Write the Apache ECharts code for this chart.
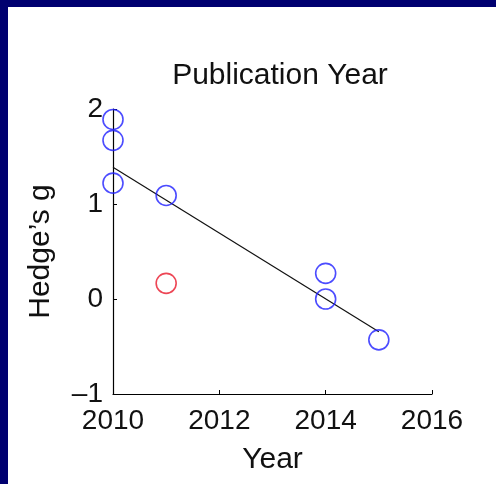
<!DOCTYPE html>
<html>
<head>
<meta charset="utf-8">
<script src="https://cdn.jsdelivr.net/npm/echarts@6/dist/echarts.min.js"></script>
<style>
html,body{margin:0;padding:0;background:#fff;}
#c{width:496px;height:484px;}
</style>
</head>
<body>
<div id="c"></div>
<script>
const titleText = 'Publication Year';
const xName = 'Year';
const yName = 'Hedge\u2019s g';
const blueYears = [2010, 2010, 2010, 2011, 2014, 2014, 2015];
const blueG = [1.89, 1.67, 1.22, 1.09, 0.27, 0.0, -0.43];
const redYears = [2011];
const redG = [0.165];
const fitYears = [2010, 2015];
const fitG = [1.386, -0.344];
const xTicks = [2010, 2012, 2014, 2016];
const yTicks = [-1, 0, 1, 2];

const font = 'Liberation Sans, Arial, Helvetica, sans-serif';
const chart = echarts.init(document.getElementById('c'), null, {renderer: 'canvas'});
const pairs = (xs, ys) => xs.map((x, i) => [x, ys[i]]);

chart.setOption({
  animation: false,
  backgroundColor: '#ffffff',
  title: {
    text: titleText,
    left: 275,
    top: 56,
    textAlign: 'center',
    textStyle: {fontFamily: font, fontSize: 30, fontWeight: 'normal', color: '#111'}
  },
  grid: {left: 113, right: 64, top: 109, bottom: 90},
  xAxis: {
    type: 'value',
    min: xTicks[0], max: xTicks[xTicks.length - 1], interval: 2,
    name: xName, nameLocation: 'middle', nameGap: 51,
    nameTextStyle: {fontFamily: font, fontSize: 30, color: '#111'},
    axisLine: {show: true, onZero: false, lineStyle: {color: '#000', width: 1.2}},
    axisTick: {show: true, inside: true, length: 4, lineStyle: {color: '#000'}},
    axisLabel: {fontFamily: font, fontSize: 28, color: '#111', margin: 13,
      formatter: v => String(v)},
    splitLine: {show: false}
  },
  yAxis: {
    type: 'value',
    min: yTicks[0], max: yTicks[yTicks.length - 1], interval: 1,
    name: yName, nameLocation: 'middle', nameGap: 57, nameRotate: 90,
    nameTextStyle: {fontFamily: font, fontSize: 30, color: '#111'},
    axisLine: {show: true, onZero: false, lineStyle: {color: '#000', width: 1.2}},
    axisTick: {show: true, inside: true, length: 4, lineStyle: {color: '#000'}},
    axisLabel: {fontFamily: font, fontSize: 28, color: '#111', margin: 10,
      formatter: v => (v < 0 ? '\u2013' + Math.abs(v) : String(v))},
    splitLine: {show: false}
  },
  graphic: [
    {type: 'rect', shape: {x: 0, y: 0, width: 496, height: 7}, style: {fill: '#000070'}, z: 100},
    {type: 'rect', shape: {x: 0, y: 0, width: 8, height: 484}, style: {fill: '#000070'}, z: 100}
  ],
  series: [
    {
      type: 'line', data: pairs(fitYears, fitG), symbol: 'none',
      lineStyle: {color: '#111', width: 1.2}, z: 2
    },
    {
      type: 'scatter', data: pairs(blueYears, blueG), symbol: 'circle', symbolSize: 20,
      itemStyle: {color: 'rgba(0,0,0,0)', borderColor: '#1f1fff', borderWidth: 1.6}, z: 3
    },
    {
      type: 'scatter', data: pairs(redYears, redG), symbol: 'circle', symbolSize: 20,
      itemStyle: {color: 'rgba(0,0,0,0)', borderColor: '#e8182a', borderWidth: 1.6}, z: 3
    }
  ]
});
</script>
</body>
</html>
